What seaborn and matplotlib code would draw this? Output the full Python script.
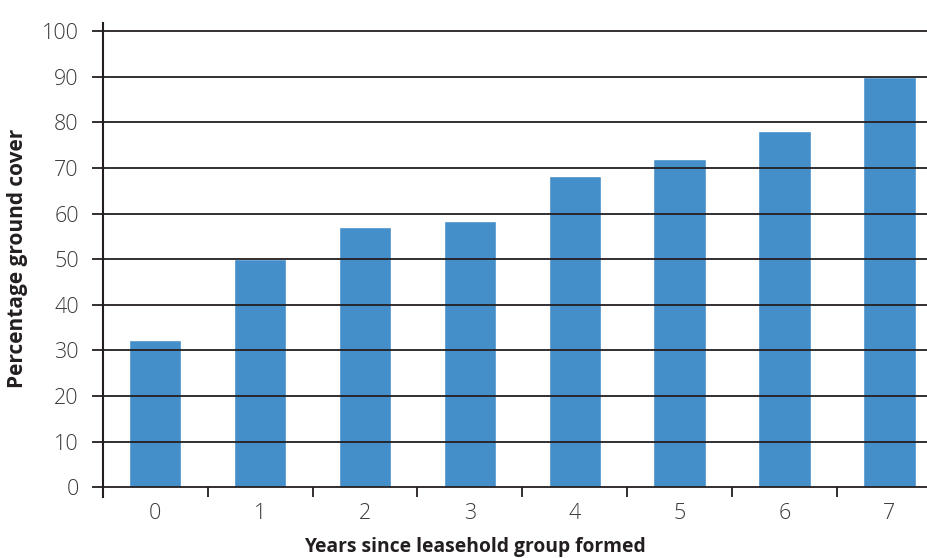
import matplotlib
matplotlib.use("Agg")
import matplotlib.pyplot as plt
import seaborn as sns
import pandas as pd

# Ground cover by years since the leasehold group was formed
years = ["0", "1", "2", "3", "4", "5", "6", "7"]
cover = [32.2, 50.0, 57.0, 58.4, 68.2, 72.0, 78.0, 90.0]
y_ticks = [0, 10, 20, 30, 40, 50, 60, 70, 80, 90, 100]

df = pd.DataFrame({"year": years, "cover": cover})

sns.set_theme(style="white")
plt.rcParams["font.family"] = ["Open Sans", "DejaVu Sans"]

W, H, DPI = 928, 558, 100
fig = plt.figure(figsize=(W / DPI, H / DPI), dpi=DPI)

# axes box in pixels: left spine at x=102.7, category width ~104.9 (runs past the right edge)
x0, x1 = 102.7, 102.7 + 8 * 104.9
y_top, y_zero = 31.0, 487.3
ppu = (y_zero - y_top) / 100.0
ylo, yhi = -2.2, 101.8
ax_bottom = y_zero + (0 - ylo) * ppu
ax_top = y_zero - yhi * ppu
ax = fig.add_axes([x0 / W, 1 - ax_bottom / H, (x1 - x0) / W, (ax_bottom - ax_top) / H])

BAR = "#448fc9"
INK = "#231f20"
LABEL = "#3a3a3a"

sns.barplot(data=df, x="year", y="cover", color=BAR, saturation=1, width=0.5, ax=ax)

ax.set_xlim(-0.5, 7.5)
ax.set_ylim(ylo, yhi)

# horizontal rules on top of bars, extended left as tick marks
for v in y_ticks:
    ax.axhline(v, color=INK, lw=1.3, zorder=5)
ax.set_yticks(y_ticks)
ax.set_yticklabels([str(v) for v in y_ticks], fontweight="light")
ax.tick_params(axis="y", which="major", direction="out", length=11.5 * 72 / DPI,
               width=1.3, color=INK, left=True, pad=9, labelsize=15.5, labelcolor=LABEL)

# category labels at centers, tick marks at boundaries hanging below the zero rule
ax.set_xticks(range(len(years)))
ax.set_xticklabels(years, fontweight="light")
ax.tick_params(axis="x", which="major", length=0, pad=4, labelsize=15.5, labelcolor=LABEL)
ax.set_xticks([i + 0.5 for i in range(len(years) - 1)], minor=True)
ax.tick_params(axis="x", which="minor", direction="in", length=(ax_bottom - y_zero) * 72 / DPI,
               width=1.3, color=INK, bottom=True)

for s in ["top", "right", "bottom"]:
    ax.spines[s].set_visible(False)
ax.spines["left"].set_color(INK)
ax.spines["left"].set_linewidth(1.5)
ax.spines["left"].set_zorder(6)

ax.set_xlabel("")
ax.set_ylabel("")
fig.text(475 / W, 1 - 547 / H, "Years since leasehold group formed", ha="center", va="center",
         fontsize=13.9, fontweight="bold", color=INK)
fig.text(18 / W, 1 - 258 / H, "Percentage ground cover", ha="center", va="center",
         rotation=90, fontsize=15, fontweight="bold", color=INK)

fig.savefig("out.png", dpi=DPI)
